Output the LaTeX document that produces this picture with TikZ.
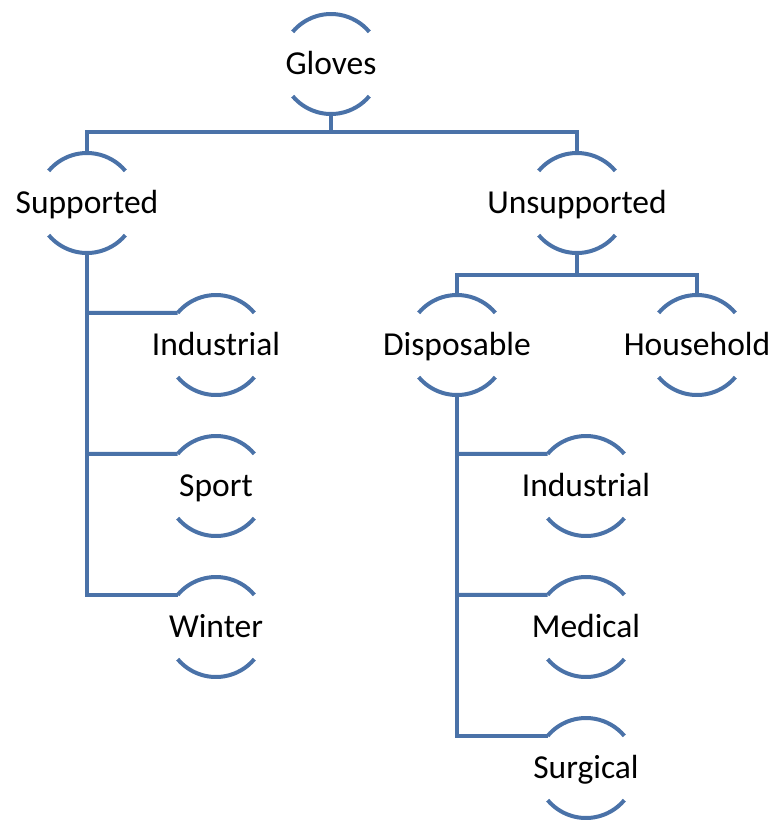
\documentclass[tikz,border=0pt]{standalone}
\usepackage{fontspec}
\setmainfont{Carlito}
\usetikzlibrary{calc}
\definecolor{linkblue}{HTML}{4A72A8}
\tikzset{
  item/.style={inner sep=0pt, outer sep=0pt, text height=21.5pt, text depth=0pt,
               font=\fontsize{33.5}{40}\selectfont, text=black},
  wire/.style={draw=linkblue, line width=4pt},
  bracket/.style={draw=linkblue, line width=4pt},
}
\begin{document}
\begin{tikzpicture}[x=1pt,y=1pt]
  \useasboundingbox (0,0) rectangle (774,-820);

  % labels, centred on each ring
  \node[item] (gloves)   at (331,-64)  {Gloves};
  \node[item] (supp)     at (87,-203)  {Supported};
  \node[item] (unsupp)   at (577,-203) {Unsupported};
  \node[item] (sindus)   at (216,-345) {Industrial};
  \node[item] (sport)    at (216,-486) {Sport};
  \node[item] (winter)   at (216,-627) {Winter};
  \node[item] (dispo)    at (457,-345) {Disposable};
  \node[item] (house)    at (697,-345) {Household};
  \node[item] (dindus)   at (586,-486) {Industrial};
  \node[item] (medical)  at (586,-627) {Medical};
  \node[item] (surgical) at (586,-768) {Surgical};

  % broken ring round each label: one arc above, one below
  \foreach \n in {gloves,supp,unsupp,sindus,sport,winter,dispo,house,dindus,medical,surgical}{
    \draw[bracket] ($(\n.center)+(140:50)$) arc[start angle=140, end angle=40, radius=50];
    \draw[bracket] ($(\n.center)+(220:50)$) arc[start angle=220, end angle=320, radius=50];
  }

  % top level
  \coordinate (j1) at ($(gloves.center)+(0,-68)$);
  \draw[wire] ($(gloves.center)+(0,-50)$) -- (j1);
  \draw[wire] (j1) -| ($(supp.center)+(0,50)$);
  \draw[wire] (j1) -| ($(unsupp.center)+(0,50)$);

  % Supported branch
  \coordinate (sb) at ($(supp.center)+(0,-50)$);
  \draw[wire] (sb) |- ($(winter.center)+(140:50)$);
  \draw[wire] (sb |- sindus.center) ++(0,32.1) -- ($(sindus.center)+(140:50)$);
  \draw[wire] (sb |- sport.center) ++(0,32.1) -- ($(sport.center)+(140:50)$);

  % Unsupported branch
  \coordinate (j2) at ($(unsupp.center)+(0,-72)$);
  \draw[wire] ($(unsupp.center)+(0,-50)$) -- (j2);
  \draw[wire] (j2) -| ($(dispo.center)+(0,50)$);
  \draw[wire] (j2) -| ($(house.center)+(0,50)$);

  % Disposable branch
  \coordinate (db) at ($(dispo.center)+(0,-50)$);
  \draw[wire] (db) |- ($(surgical.center)+(140:50)$);
  \draw[wire] (db |- dindus.center) ++(0,32.1) -- ($(dindus.center)+(140:50)$);
  \draw[wire] (db |- medical.center) ++(0,32.1) -- ($(medical.center)+(140:50)$);
\end{tikzpicture}
\end{document}
